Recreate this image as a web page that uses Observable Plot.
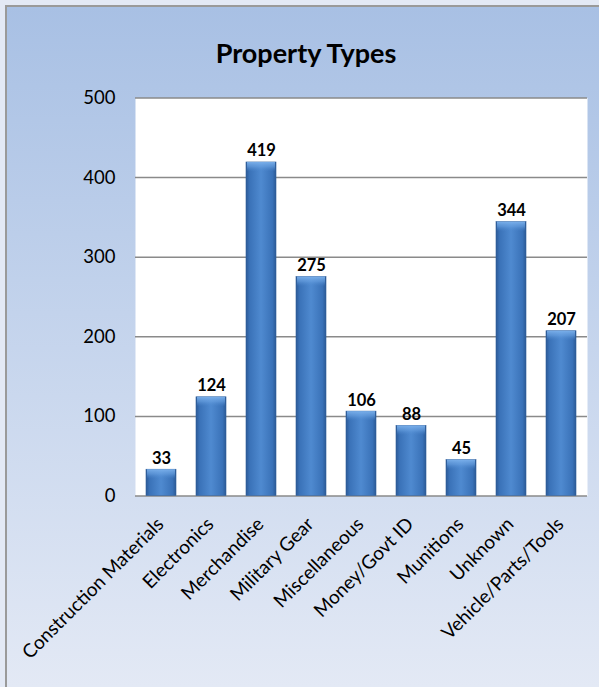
<!DOCTYPE html>
<html>
<head>
<meta charset="utf-8">
<script src="https://cdn.jsdelivr.net/npm/d3@7"></script>
<script src="https://cdn.jsdelivr.net/npm/@observablehq/plot@0.6"></script>
<style>
  html, body { margin: 0; padding: 0; width: 599px; height: 687px; overflow: hidden; background: #e3e9f5; }
  #frame {
    position: absolute; left: 5px; top: 5px; width: 594px; height: 682px;
    box-sizing: border-box; border-left: 2px solid #9a9a9a; border-top: 2px solid #9a9a9a;
    background: linear-gradient(to bottom, #a8c0e4 0%, #c3d3ec 45%, #e3e9f5 100%);
  }
  #chart { position: absolute; left: 0; top: 0; }
  #title {
    position: absolute; left: 0; width: 612px; top: 36px; text-align: center;
    font-family: Lato, "Open Sans", sans-serif; font-weight: bold; font-size: 27px; color: #000;
  }
</style>
</head>
<body>
<div id="frame"></div>
<div id="title">Property Types</div>
<div id="chart"></div>
<script>
const categories = ["Construction Materials", "Electronics", "Merchandise", "Military Gear", "Miscellaneous", "Money/Govt ID", "Munitions", "Unknown", "Vehicle/Parts/Tools"];
const values = [33, 124, 419, 275, 106, 88, 45, 344, 207];
const yTicks = [0, 100, 200, 300, 400, 500];

const data = categories.map((c, i) => ({category: c, value: values[i]}));

const plot = Plot.plot({
  width: 599,
  height: 687,
  marginLeft: 135,
  marginRight: 12,
  marginTop: 97.5,
  marginBottom: 191.5,
  style: {background: "transparent", fontFamily: "Lato, 'Open Sans', sans-serif", fontSize: "16px", color: "#000"},
  x: {domain: categories, paddingInner: 0.4, paddingOuter: 0.2, label: null},
  y: {domain: [0, 500], label: null},
  marks: [
    Plot.frame({fill: "white", stroke: null}),
    Plot.gridY(yTicks, {stroke: "#8a8a8a", strokeOpacity: 1, strokeWidth: 1.5}),
    Plot.barY(data, {x: "category", y: "value", fill: "url(#barGrad)", stroke: "#2f5e9a", strokeWidth: 0.6}),
    Plot.barY(data, {x: "category", y1: d => Math.max(0, d.value - 12), y2: "value", fill: "url(#capGrad)", insetLeft: 1, insetRight: 1}),
    Plot.text(data, {x: "category", y: "value", text: d => String(d.value), lineAnchor: "bottom", dy: -6, fontWeight: "bold", fontSize: 16.5, fill: "#000"}),
    Plot.axisY(yTicks, {tickSize: 0, tickPadding: 20, fontSize: 18.5, fill: "#000"}),
    Plot.axisX({tickSize: 0, tickRotate: -45, tickPadding: 25, dx: -1, fontSize: 19, fill: "#000"})
  ]
});

const svg = d3.select(plot);
const defs = svg.insert("defs", ":first-child");
const g = defs.append("linearGradient").attr("id", "barGrad").attr("x1", "0").attr("x2", "1").attr("y1", "0").attr("y2", "0");
[[0, "#2c5a96"], [0.12, "#3a72b8"], [0.5, "#4f8ad0"], [0.88, "#3a72b8"], [1, "#2c5a96"]].forEach(([o, c]) =>
  g.append("stop").attr("offset", o).attr("stop-color", c));
const cg = defs.append("linearGradient").attr("id", "capGrad").attr("x1", "0").attr("x2", "0").attr("y1", "0").attr("y2", "1");
[[0, "#7fb4ee", 0.9], [0.5, "#6aa2e2", 0.6], [1, "#4f8ad0", 0]].forEach(([o, c, op]) =>
  cg.append("stop").attr("offset", o).attr("stop-color", c).attr("stop-opacity", op));

document.getElementById("chart").appendChild(plot);
</script>
</body>
</html>
